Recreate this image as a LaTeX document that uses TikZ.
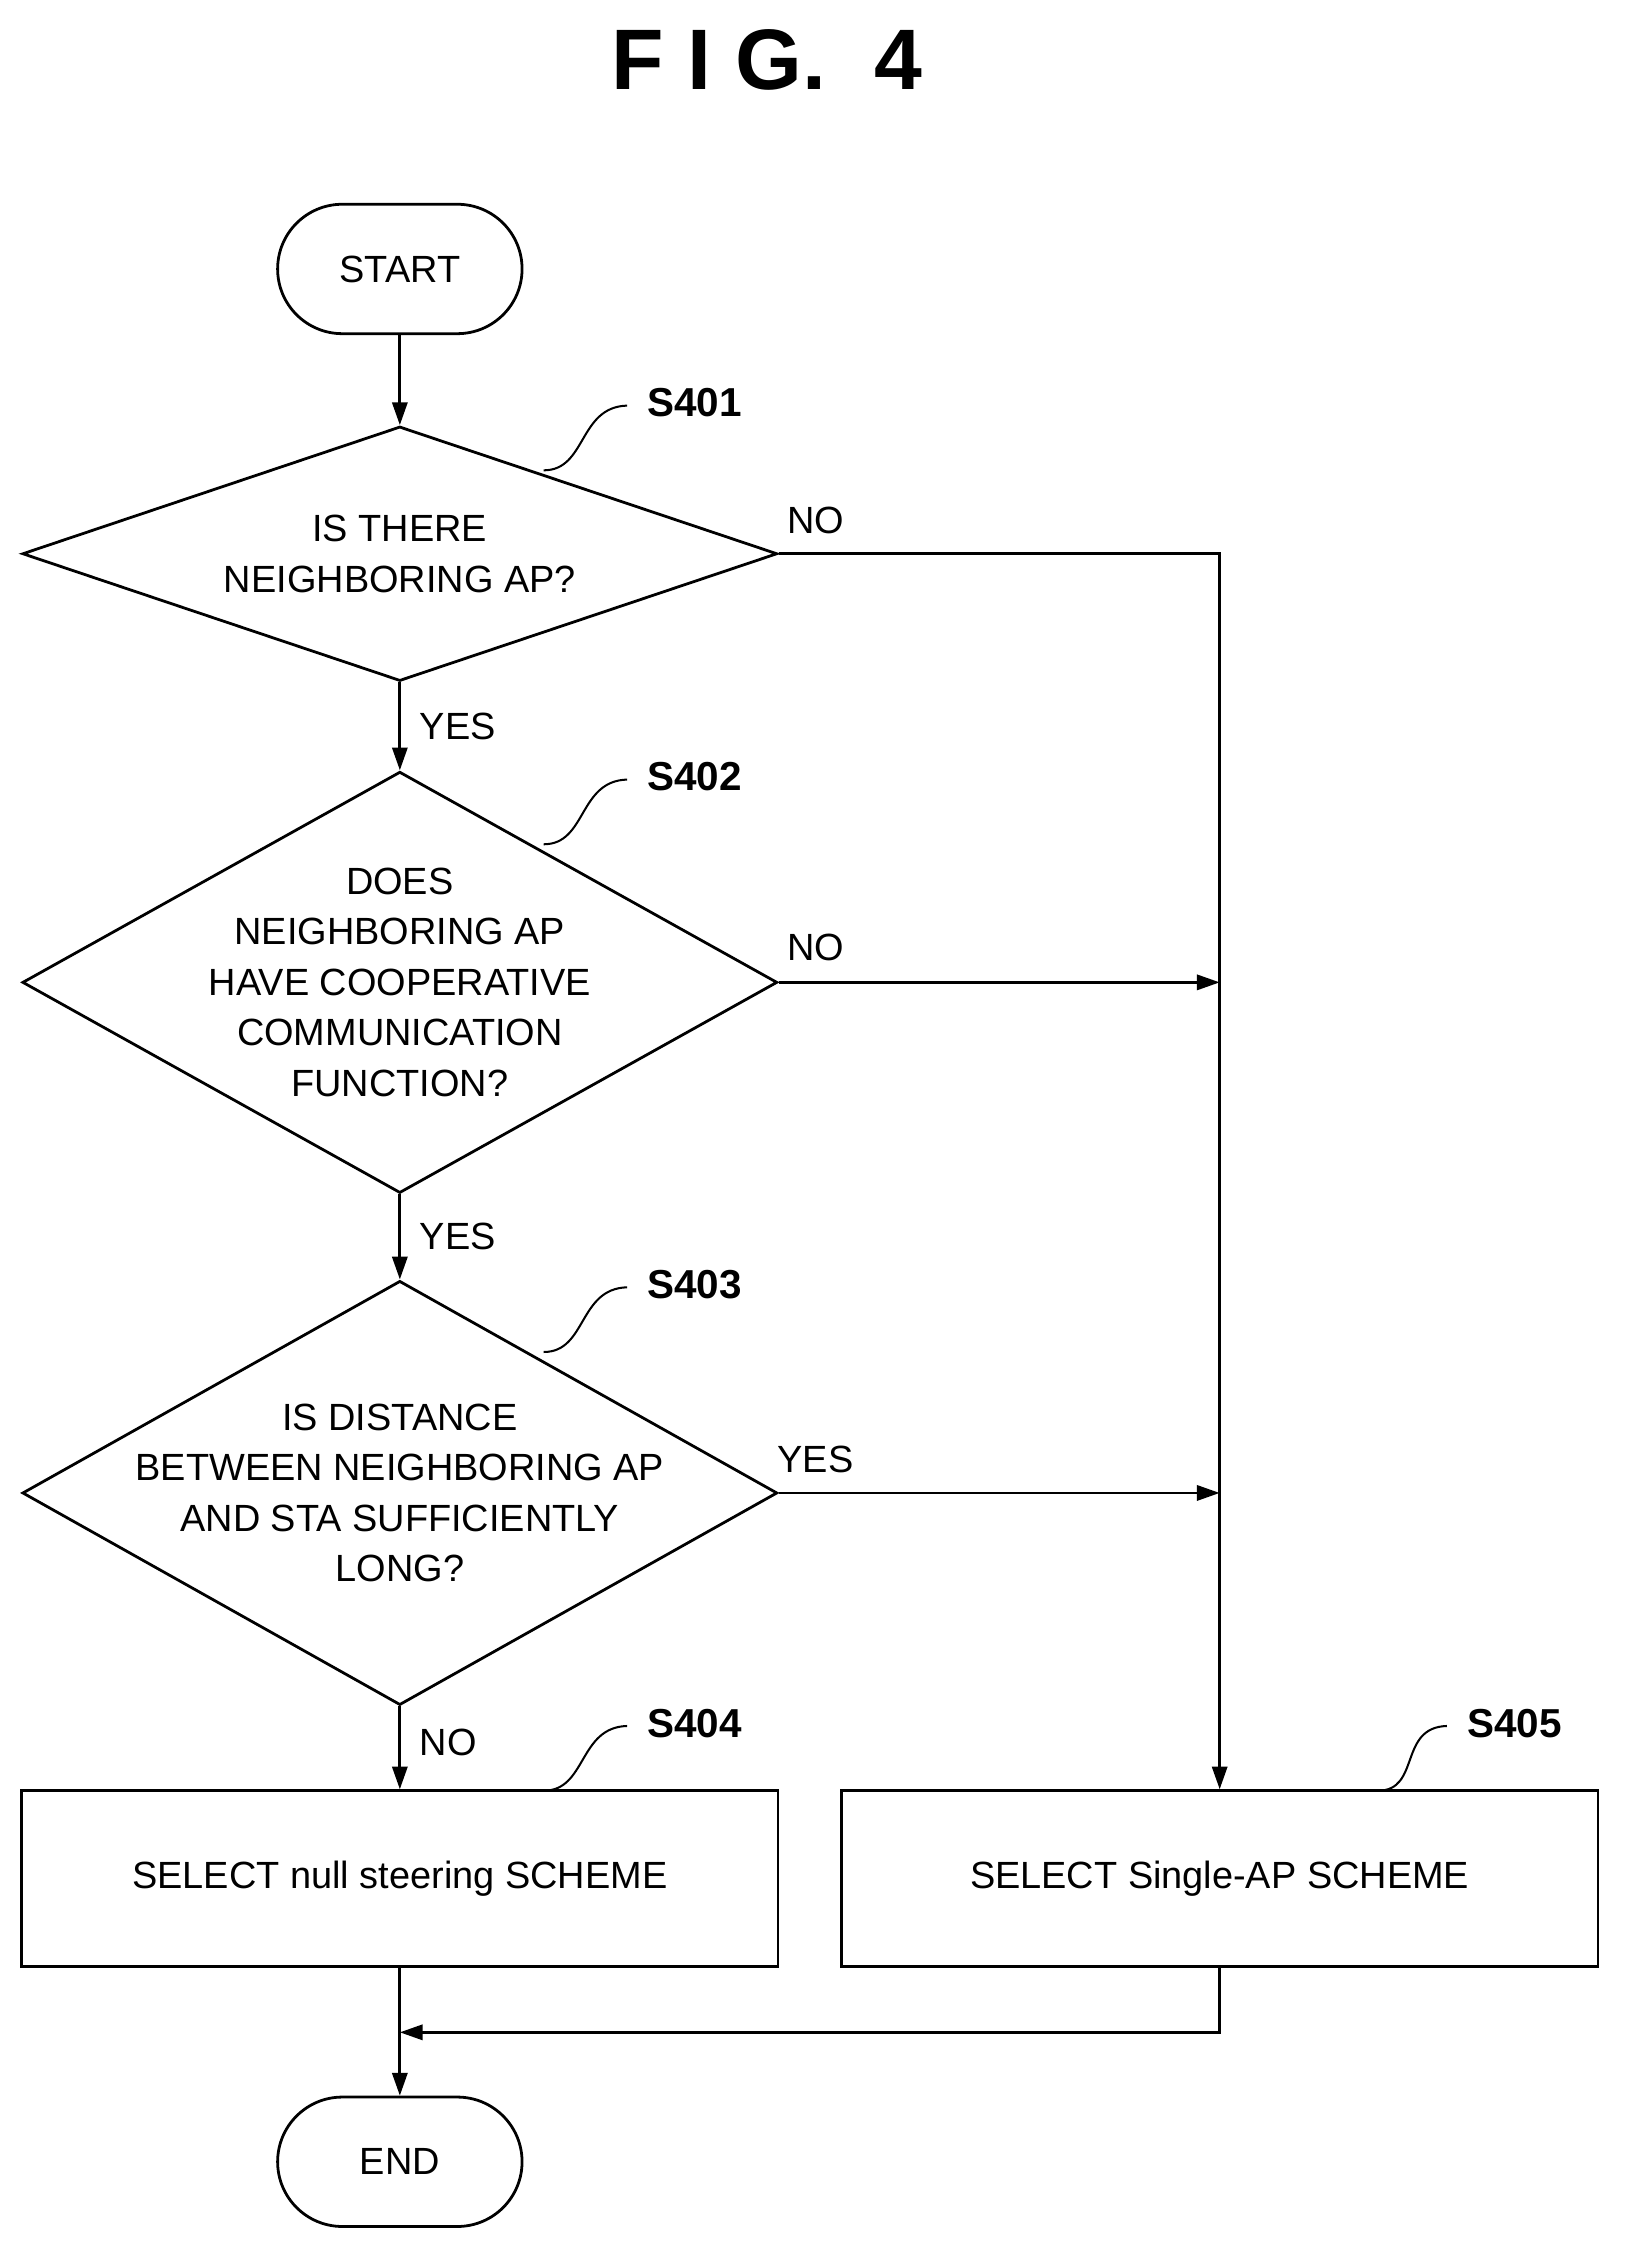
\documentclass[tikz,border=0pt]{standalone}
\usepackage{fontspec}
\setmainfont{Liberation Sans}
\usetikzlibrary{shapes.geometric,arrows.meta}
\begin{document}
\begin{tikzpicture}[x=0.02cm,y=-0.02cm,
        line width=1.1pt,
        >={Triangle[length=9pt,width=6pt]},
        term/.style={rectangle,rounded corners=0.9cm,draw,minimum width=3.4cm,minimum height=1.8cm,
                font=\fontsize{15}{20}\selectfont},
        decision/.style={diamond,draw,minimum width=10.5cm,inner sep=0pt},
        dtext/.style={align=center,font=\fontsize{15}{20}\selectfont},
        proc/.style={rectangle,draw,minimum width=10.52cm,minimum height=2.44cm,
                font=\fontsize{15}{20}\selectfont},
        steplbl/.style={font=\bfseries\fontsize{16}{20}\selectfont},
        lbl/.style={font=\fontsize{15}{20}\selectfont},
    ]
    \useasboundingbox (0,0) rectangle (1130,1572);

    % Title
    \node[font=\bfseries\fontsize{34}{40}\selectfont] (title) at (533,42) {F I G.\ \ 4};

    % Terminals
    \node[term] (start) at (278,187) {START};
    \node[term] (end) at (278,1503) {END};

    % Decisions
    \node[decision,minimum height=3.54cm] (d1) at (278,385) {};
    \node[dtext] (t1) at (d1.center) {IS THERE\\NEIGHBORING AP?};
    \node[decision,minimum height=5.86cm] (d2) at (278,683) {};
    \node[dtext] (t2) at (d2.center) {DOES\\NEIGHBORING AP\\HAVE COOPERATIVE\\COMMUNICATION\\FUNCTION?};
    \node[decision,minimum height=5.9cm] (d3) at (278,1038) {};
    \node[dtext] (t3) at (d3.center) {IS DISTANCE\\BETWEEN NEIGHBORING AP\\AND STA SUFFICIENTLY\\LONG?};

    % Processes
    \node[proc] (p1) at (278,1306) {SELECT null steering SCHEME};
    \node[proc] (p2) at (848,1306) {SELECT Single-AP SCHEME};

    % Step labels
    \node[steplbl] (s1) at (483,280) {S401};
    \node[steplbl] (s2) at (483,540) {S402};
    \node[steplbl] (s3) at (483,893) {S403};
    \node[steplbl] (s4) at (483,1198) {S404};
    \node[steplbl] (s5) at (1053,1198) {S405};
    \draw[line width=0.8pt] (378,327) .. controls (408,327) and (402,283) .. (436,282);
    \draw[line width=0.8pt] (378,587) .. controls (408,587) and (402,543) .. (436,542);
    \draw[line width=0.8pt] (378,940) .. controls (408,940) and (402,896) .. (436,895);
    \draw[line width=0.8pt] (378,1245) .. controls (408,1245) and (402,1201) .. (436,1200);
    \draw[line width=0.8pt] (958,1245) .. controls (988,1245) and (972,1201) .. (1006,1200);

    % Junctions
    \coordinate (j1) at (848,385);
    \coordinate (j2) at (848,683);
    \coordinate (j3) at (848,1038);
    \coordinate (j4) at (848,1413);
    \coordinate (j5) at (278,1413);

    % Connectors
    \draw[->] (start) -- (d1);
    \draw[->] (d1) -- node[lbl,right,xshift=4pt] {YES} (d2);
    \draw[->] (d2) -- node[lbl,right,xshift=4pt] {YES} (d3);
    \draw[->] (d3) -- node[lbl,right,xshift=4pt,yshift=2pt] {NO} (p1);
    \draw[->] (d1.east) -- (j1) -- (p2.north);
    \node[lbl] (n1) at (567,362) {NO};
    \draw[->] (d2.east) -- (j2);
    \node[lbl] (n2) at (567,659) {NO};
    \draw[->] (d3.east) -- (j3);
    \node[lbl] (n3) at (567,1015) {YES};
    \draw[->] (p1.south) -- (end.north);
    \draw[->] (p2.south) -- (j4) -- (j5);
\end{tikzpicture}
\end{document}
